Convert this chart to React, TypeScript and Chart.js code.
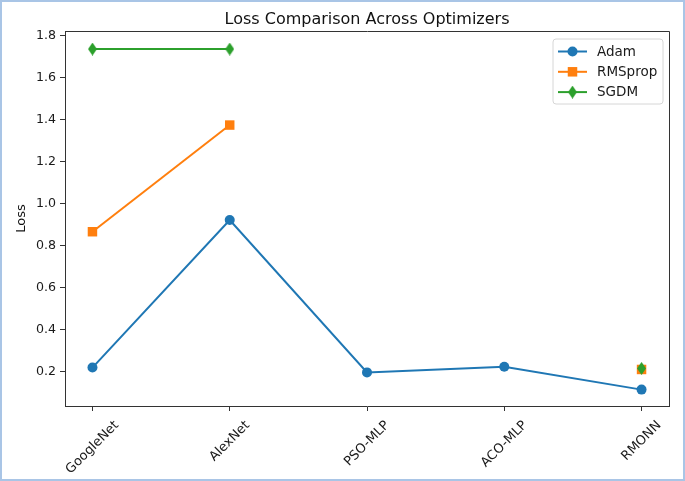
import React, { useEffect, useRef } from 'react';
import { Chart, registerables } from 'chart.js';

Chart.register(...registerables);

const categories = ['GoogleNet', 'AlexNet', 'PSO-MLP', 'ACO-MLP', 'RMONN'];
const adamLoss: (number | null)[] = [0.219, 0.922, 0.196, 0.223, 0.114];
const rmspropLoss: (number | null)[] = [0.866, 1.374, null, null, 0.21];
const sgdmLoss: (number | null)[] = [1.736, 1.736, null, null, 0.215];
const seriesNames = ['Adam', 'RMSprop', 'SGDM'];
const seriesColors = ['#1f77b4', '#ff7f0e', '#2ca02c'];
const yTicks = [0.2, 0.4, 0.6, 0.8, 1.0, 1.2, 1.4, 1.6, 1.8];
const titleText = 'Loss Comparison Across Optimizers';
const yLabel = 'Loss';

const FONT = '"DejaVu Sans", sans-serif';
const W = 685;
const H = 481;

function makeThinDiamond(color: string, w: number, h: number): HTMLCanvasElement {
  const c = document.createElement('canvas');
  c.width = w;
  c.height = h;
  const g = c.getContext('2d')!;
  g.fillStyle = color;
  g.beginPath();
  g.moveTo(w / 2, 0);
  g.lineTo(w, h / 2);
  g.lineTo(w / 2, h);
  g.lineTo(0, h / 2);
  g.closePath();
  g.fill();
  return c;
}

function toPoints(vals: (number | null)[]) {
  return vals.map((v, i) => ({ x: i, y: v }));
}

export default function App() {
  const ref = useRef<HTMLCanvasElement | null>(null);

  useEffect(() => {
    const canvas = ref.current;
    if (!canvas) return;
    const diamond = makeThinDiamond(seriesColors[2], 9, 13);

    const drawMarker = (ctx: CanvasRenderingContext2D, kind: number, x: number, y: number) => {
      ctx.fillStyle = seriesColors[kind];
      if (kind === 0) {
        ctx.beginPath();
        ctx.arc(x, y, 5, 0, Math.PI * 2);
        ctx.fill();
      } else if (kind === 1) {
        ctx.fillRect(x - 4.75, y - 4.75, 9.5, 9.5);
      } else {
        ctx.drawImage(diamond, x - 4.5, y - 6.5);
      }
    };

    const overlay = {
      id: 'overlay',
      beforeDraw(chart: any) {
        const ctx = chart.ctx as CanvasRenderingContext2D;
        ctx.save();
        ctx.fillStyle = '#ffffff';
        ctx.fillRect(0, 0, W, H);
        ctx.strokeStyle = '#a9c5e6';
        ctx.lineWidth = 2;
        ctx.strokeRect(1, 1, W - 2, H - 2);
        ctx.restore();
      },
      afterDraw(chart: any) {
        const ctx = chart.ctx as CanvasRenderingContext2D;
        const a = chart.chartArea;
        const xs = chart.scales.x;
        ctx.save();
        ctx.strokeStyle = '#333333';
        ctx.lineWidth = 1;
        ctx.beginPath();
        ctx.moveTo(Math.round(a.left) + 0.5, Math.round(a.top) + 0.5);
        ctx.lineTo(Math.round(a.right) + 0.5, Math.round(a.top) + 0.5);
        ctx.lineTo(Math.round(a.right) + 0.5, Math.round(a.bottom) + 0.5);
        ctx.stroke();

        ctx.fillStyle = '#111111';
        ctx.font = `16px ${FONT}`;
        ctx.textAlign = 'center';
        ctx.textBaseline = 'alphabetic';
        ctx.fillText(titleText, (a.left + a.right) / 2, 24);

        ctx.save();
        ctx.font = `13px ${FONT}`;
        ctx.translate(22, (a.top + a.bottom) / 2);
        ctx.rotate(-Math.PI / 2);
        ctx.textAlign = 'center';
        ctx.textBaseline = 'middle';
        ctx.fillText(yLabel, 0, 0);
        ctx.restore();

        const fs = 13;
        ctx.font = `${fs}px ${FONT}`;
        categories.forEach((c, i) => {
          const px = xs.getPixelForValue(i);
          const w = ctx.measureText(c).width;
          const bh = (w + fs * 1.15) * Math.SQRT1_2;
          const top = a.bottom + 12;
          ctx.save();
          ctx.translate(px, top + bh / 2);
          ctx.rotate(-Math.PI / 4);
          ctx.textAlign = 'center';
          ctx.textBaseline = 'middle';
          ctx.fillStyle = '#1a1a1a';
          ctx.fillText(c, 0, 0);
          ctx.restore();
        });

        const lx = 553, ly = 39, lw = 110, lh = 65;
        ctx.beginPath();
        const r = 3;
        ctx.moveTo(lx + r, ly);
        ctx.lineTo(lx + lw - r, ly);
        ctx.quadraticCurveTo(lx + lw, ly, lx + lw, ly + r);
        ctx.lineTo(lx + lw, ly + lh - r);
        ctx.quadraticCurveTo(lx + lw, ly + lh, lx + lw - r, ly + lh);
        ctx.lineTo(lx + r, ly + lh);
        ctx.quadraticCurveTo(lx, ly + lh, lx, ly + lh - r);
        ctx.lineTo(lx, ly + r);
        ctx.quadraticCurveTo(lx, ly, lx + r, ly);
        ctx.closePath();
        ctx.fillStyle = 'rgba(255,255,255,0.8)';
        ctx.fill();
        ctx.strokeStyle = '#d6d6d6';
        ctx.lineWidth = 1;
        ctx.stroke();
        ctx.font = `13.5px ${FONT}`;
        ctx.textAlign = 'left';
        ctx.textBaseline = 'middle';
        seriesNames.forEach((n, k) => {
          const yy = 51.5 + k * 20.3;
          ctx.strokeStyle = seriesColors[k];
          ctx.lineWidth = 2;
          ctx.beginPath();
          ctx.moveTo(558, yy);
          ctx.lineTo(587, yy);
          ctx.stroke();
          drawMarker(ctx, k, 572.5, yy);
          ctx.fillStyle = '#1a1a1a';
          ctx.fillText(n, 597, yy + 0.5);
        });
        ctx.restore();
      },
    };

    const chart = new Chart(canvas, {
      type: 'line',
      data: {
        datasets: [
          {
            label: seriesNames[0],
            data: toPoints(adamLoss) as any,
            borderColor: seriesColors[0],
            backgroundColor: seriesColors[0],
            pointStyle: 'circle',
            pointRadius: 5,
            pointBorderWidth: 0,
            borderWidth: 2,
            spanGaps: false,
            order: 2,
          },
          {
            label: seriesNames[1],
            data: toPoints(rmspropLoss) as any,
            borderColor: seriesColors[1],
            backgroundColor: seriesColors[1],
            pointStyle: 'rect',
            pointRadius: 6.7,
            pointBorderWidth: 0,
            borderWidth: 2,
            spanGaps: false,
            order: 1,
          },
          {
            label: seriesNames[2],
            data: toPoints(sgdmLoss) as any,
            borderColor: seriesColors[2],
            backgroundColor: seriesColors[2],
            pointStyle: diamond as any,
            pointRadius: 6.5,
            pointBorderWidth: 0,
            borderWidth: 2,
            spanGaps: false,
            order: 0,
          },
        ],
      },
      options: {
        responsive: false,
        animation: false,
        devicePixelRatio: 1,
        layout: { padding: { left: 0, top: 31, right: 16, bottom: 0 } },
        plugins: {
          legend: { display: false },
          title: { display: false },
          tooltip: { enabled: false },
        },
        scales: {
          x: {
            type: 'linear',
            min: -0.2,
            max: 4.2,
            afterBuildTicks: (s: any) => {
              s.ticks = categories.map((_, i) => ({ value: i }));
            },
            ticks: { display: false },
            grid: {
              drawOnChartArea: false,
              drawTicks: true,
              tickLength: 5,
              tickColor: '#333333',
              tickWidth: 1,
            },
            border: { display: true, color: '#333333', width: 1 },
            afterFit: (s: any) => {
              s.height = 75;
            },
          },
          y: {
            type: 'linear',
            min: 0.036,
            max: 1.822,
            afterBuildTicks: (s: any) => {
              s.ticks = yTicks.map((v) => ({ value: v }));
            },
            ticks: {
              callback: (v: any) => Number(v).toFixed(1),
              font: { family: FONT, size: 12.6 },
              color: '#1a1a1a',
              padding: 4,
            },
            grid: {
              drawOnChartArea: false,
              drawTicks: true,
              tickLength: 5,
              tickColor: '#333333',
              tickWidth: 1,
            },
            border: { display: true, color: '#333333', width: 1 },
            afterFit: (s: any) => {
              s.width = 65;
            },
          },
        },
      },
      plugins: [overlay],
    });

    return () => chart.destroy();
  }, []);

  return (
    <div style={{ position: 'fixed', left: 0, top: 0, width: W, height: H }}>
      <canvas ref={ref} width={W} height={H} style={{ display: 'block', width: W, height: H }} />
    </div>
  );
}
